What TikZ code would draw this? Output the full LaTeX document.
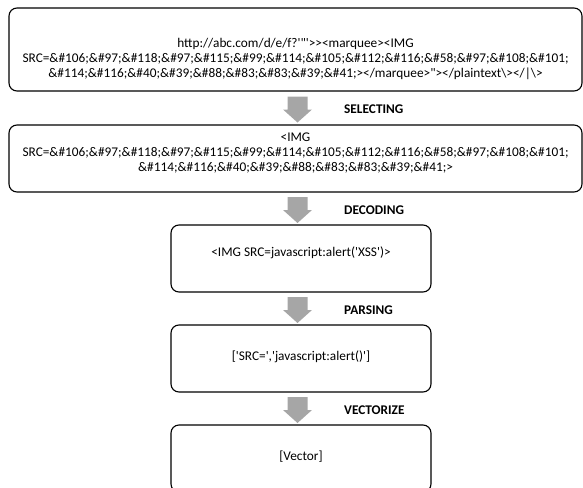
\documentclass[tikz,border=0pt]{standalone}
\usepackage{fontspec}
\newfontfamily\carlito{Carlito}
\usepackage{tikz}
\usetikzlibrary{calc}

\begin{document}
\begin{tikzpicture}[x=1pt,y=-1pt]
            \tikzset{box/.style = {draw, line width=1.1pt, rounded corners=8pt, inner sep=0pt}}
            \tikzset{txt/.style = {align=center, inner sep=0pt, font=\carlito\fontsize{13.3}{15}\selectfont}}
            \tikzset{steplabel/.style = {anchor=west, inner sep=0pt, font=\carlito\bfseries\fontsize{13.3}{15}\selectfont}}
            \tikzset{blockarrow/.style = {fill=black!35}}

            \useasboundingbox (0,0) rectangle (583,487);
            \clip (0,0) rectangle (583,487);

            % boxes
            \node[box, minimum width=573, minimum height=83] (raw) at (295.5,49.5) {};
            \node[box, minimum width=573, minimum height=67] (selected) at (295.5,158.5) {};
            \node[box, minimum width=260, minimum height=67] (decoded) at (301,258.5) {};
            \node[box, minimum width=260, minimum height=67] (parsed) at (301,358.5) {};
            \node[box, minimum width=260, minimum height=67] (vector) at (301,458.5) {};

            % texts
            \node[txt] (rawtext) at (295.5,59) {http://abc.com/d/e/f?'"'>{}>{}<marquee><IMG\\
              SRC=\&\#106;\&\#97;\&\#118;\&\#97;\&\#115;\&\#99;\&\#114;\&\#105;\&\#112;\&\#116;\&\#58;\&\#97;\&\#108;\&\#101;\\
              \&\#114;\&\#116;\&\#40;\&\#39;\&\#88;\&\#83;\&\#83;\&\#39;\&\#41;></marquee>"></plaintext\textbackslash></|\textbackslash>};
            \node[txt] (selectedtext) at (295.5,153.5) {<IMG\\
              SRC=\&\#106;\&\#97;\&\#118;\&\#97;\&\#115;\&\#99;\&\#114;\&\#105;\&\#112;\&\#116;\&\#58;\&\#97;\&\#108;\&\#101;\\
              \&\#114;\&\#116;\&\#40;\&\#39;\&\#88;\&\#83;\&\#83;\&\#39;\&\#41;>};
            \node[txt] (decodedtext) at (301,252.5) {<IMG SRC=javascript:alert('XSS')>};
            \node[txt] (parsedtext) at (301,357) {['SRC=','javascript:alert()']};
            \node[txt] (vectortext) at (301,457) {[Vector]};

            % arrows
            \coordinate (col) at (297.5,0);
            \foreach \a/\b/\lab/\name in {raw/selected/SELECTING/sel,selected/decoded/DECODING/dec,decoded/parsed/PARSING/par,parsed/vector/VECTORIZE/vec}
            {
              \coordinate (m) at ($(\a.south)!0.5!(\b.north)$);
              \coordinate (\name) at ($(m -| col)+(0,1.5)$);
              \fill[blockarrow, shift={(\name)}] (-10,-13) -- (10,-13) -- (10,0) -- (14.5,0) -- (0,13) -- (-14.5,0) -- (-10,0) -- cycle;
              \node[steplabel] (\name label) at ($(\name)+(46.5,0)$) {\lab};
            }

          \end{tikzpicture}
\end{document}
